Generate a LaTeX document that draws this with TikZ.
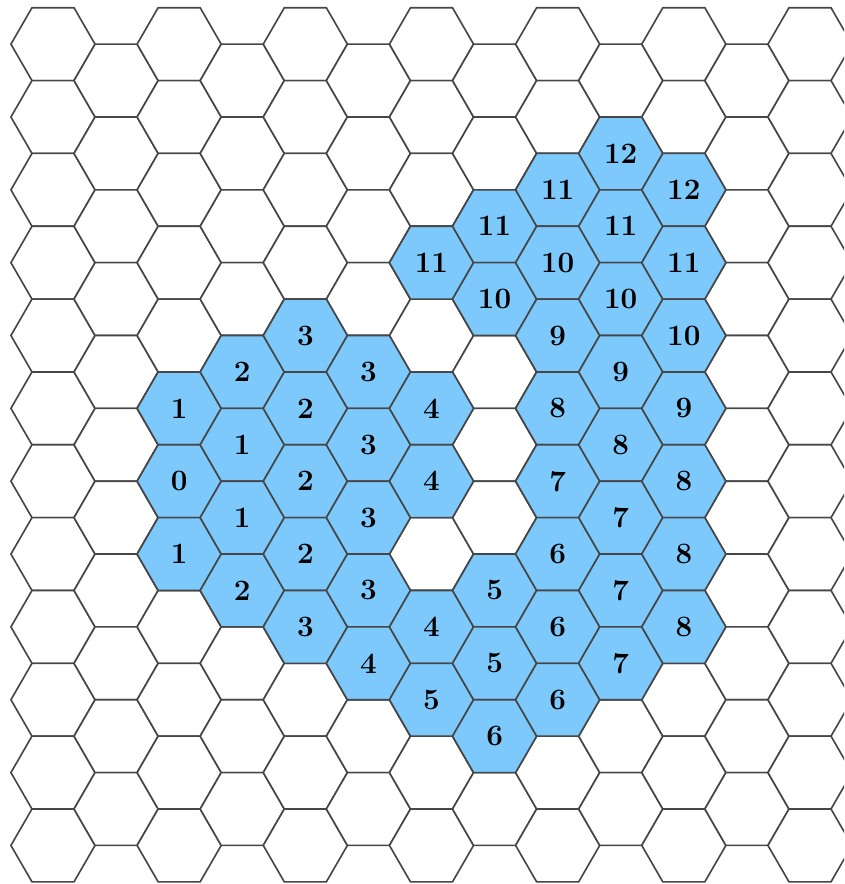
\documentclass[tikz,border=0pt]{standalone}
\usepackage{tikz}
\usetikzlibrary{shapes.geometric}
\definecolor{CellBlue}{RGB}{125, 201, 252}
\definecolor{EdgeGray}{RGB}{70, 70, 70}

\begin{document}
\begin{tikzpicture}[
    font=\fontsize{20}{22}\selectfont\bfseries,
    hexcell/.style={regular polygon, regular polygon sides=6, minimum size=2cm, inner sep=0pt, outer sep=0pt, draw=EdgeGray, line width=1.1pt, fill=white},
    distcell/.style={hexcell, fill=CellBlue}
  ]
    % Frame of the picture
    \clip (-1.26,1.05) rectangle (18.81,-19.97);

    % Background grid: even columns 12 cells, odd columns 11 cells
    \foreach \i in {0,...,12} {
      \pgfmathtruncatemacro{\odd}{mod(\i,2)}
      \pgfmathtruncatemacro{\last}{11-\odd}
      \foreach \j in {0,...,\last} {
        \pgfmathsetmacro{\hx}{1.5*\i}
        \pgfmathsetmacro{\hy}{-sqrt(3)*(\j+0.5*\odd)}
        \node[hexcell] (cell-\i-\j) at (\hx,\hy) {};
      }
    }

    % Reached cells with their distance
    \foreach \i/\j/\d in {
        2/5/1, 2/6/0, 2/7/1,
        3/4/2, 3/5/1, 3/6/1, 3/7/2,
        4/4/3, 4/5/2, 4/6/2, 4/7/2, 4/8/3,
        5/4/3, 5/5/3, 5/6/3, 5/7/3, 5/8/4,
        6/3/11, 6/5/4, 6/6/4, 6/8/4, 6/9/5,
        7/2/11, 7/3/10, 7/7/5, 7/8/5, 7/9/6,
        8/2/11, 8/3/10, 8/4/9, 8/5/8, 8/6/7, 8/7/6, 8/8/6, 8/9/6,
        9/1/12, 9/2/11, 9/3/10, 9/4/9, 9/5/8, 9/6/7, 9/7/7, 9/8/7,
        10/2/12, 10/3/11, 10/4/10, 10/5/9, 10/6/8, 10/7/8, 10/8/8} {
      \node[distcell] (dist-\i-\j) at (cell-\i-\j.center) {\d};
    }
\end{tikzpicture}
\end{document}
